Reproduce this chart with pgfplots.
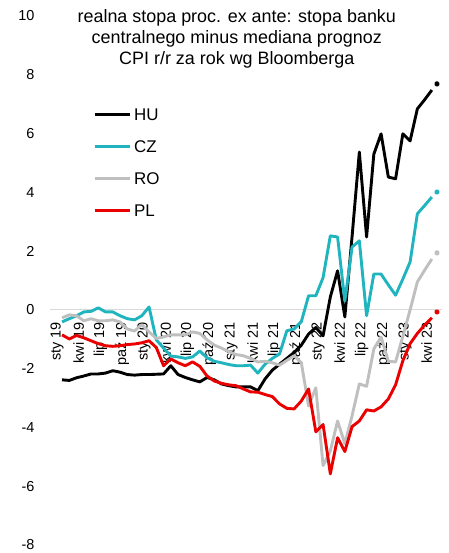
\documentclass[border=0pt]{standalone}
\usepackage{fontspec}
\setmainfont{Liberation Sans}
\usepackage{pgfplots}
\usepackage{pgfplotstable}
\pgfplotsset{compat=1.18}
\definecolor{hu}{RGB}{0,0,0}
\definecolor{cz}{RGB}{32,180,190}
\definecolor{ro}{RGB}{191,191,191}
\definecolor{pl}{RGB}{235,0,0}
\definecolor{zeroline}{RGB}{217,217,217}

% monthly data, i = 0 is Jan 2019
\pgfplotstableread{
i  hu    cz    ro    pl
0  -2.38 -0.41 -0.27 -0.85
1  -2.40 -0.30 -0.17 -0.99
2  -2.31 -0.20 -0.20 -0.87
3  -2.25 -0.07 -0.37 -0.95
4  -2.18 -0.05 -0.30 -1.05
5  -2.18  0.07 -0.37 -1.15
6  -2.15 -0.07 -0.37 -1.22
7  -2.07 -0.07 -0.34 -1.24
8  -2.12 -0.20 -0.41 -1.22
9  -2.20 -0.30 -0.65 -1.18
10 -2.22 -0.34 -0.72 -1.16
11 -2.20 -0.20 -0.50 -1.12
12 -2.20  0.10 -0.75 -1.05
13 -2.19 -1.02 -0.97 -1.28
14 -2.18 -1.30 -0.92 -1.90
15 -1.90 -1.57 -0.85 -1.67
16 -2.20 -1.60 -0.85 -1.80
17 -2.30 -1.65 -0.85 -1.90
18 -2.38 -1.60 -0.75 -1.77
19 -2.45 -1.40 -0.80 -1.92
20 -2.30 -1.63 -1.02 -2.25
21 -2.38 -1.75 -1.20 -2.42
22 -2.52 -1.80 -1.30 -2.50
23 -2.58 -1.86 -1.42 -2.55
24 -2.62 -1.90 -1.52 -2.58
25 -2.62 -1.90 -1.56 -2.69
26 -2.62 -1.88 -1.65 -2.79
27 -2.75 -2.15 -1.77 -2.80
28 -2.35 -1.85 -1.75 -2.88
29 -2.05 -1.65 -1.80 -2.95
30 -1.85 -1.50 -1.88 -3.20
31 -1.65 -0.71 -1.72 -3.35
32 -1.45 -0.65 -1.56 -3.37
33 -1.20 -0.40 -1.80 -3.10
34 -0.82  0.48 -3.27 -2.69
35 -0.60  0.48 -2.65 -4.15
36 -0.88  1.10 -5.30 -3.90
37  0.44  2.52 -4.80 -5.58
38  1.33  2.48 -3.78 -4.35
39 -0.24  0.30 -4.55 -4.82
40  2.50  2.14 -3.60 -3.97
41  5.37  2.35 -2.52 -3.78
42  2.48 -0.20 -2.60 -3.40
43  5.30  1.22 -1.33 -3.44
44  5.99  1.22 -0.92 -3.30
45  4.52  0.85 -1.75 -3.03
46  4.46  0.50 -1.77 -2.55
47  5.99  1.05 -0.90 -1.73
48  5.75  1.63  0.00 -1.15
49  6.84  3.27  0.95 -0.80
50  7.15  3.55  1.35 -0.52
51  7.48  3.84  1.73 -0.27
}\rates

% latest reading, drawn as a dot only
\pgfplotstableread{
i    hu   cz   ro   pl
51.7 7.69 4.01 1.94 -0.07
}\latest

\begin{document}
\begin{tikzpicture}
\begin{axis}[at={(0,0)}, anchor=south west, scale only axis,
  width=392bp, height=529bp,
  xmin=-1.66, xmax=52.4, ymin=-8, ymax=10,
  axis x line=middle, axis y line=left,
  x axis line style={draw=zeroline, line width=0.8bp, -},
  y axis line style={draw=none},
  major tick length=0pt,
  ytick={-8,-6,-4,-2,0,2,4,6,8,10},
  yticklabels={-8,-6,-4,-2,0,2,4,6,8,10},
  yticklabel style={xshift=-12bp},
  xtick={-0.7,2.3,5.3,8.3,11.3,14.3,17.3,20.3,23.3,26.3,29.3,32.3,35.3,38.3,41.3,44.3,47.3,50.3},
  xticklabels={sty 19,kwi 19,lip 19,paź 19,sty 20,kwi 20,lip 20,paź 20,sty 21,kwi 21,lip 21,paź 21,sty 22,kwi 22,lip 22,paź 22,sty 23,kwi 23},
  tick label style={font=\fontsize{14.5}{17}\selectfont, text=black},
  xticklabel style={yshift=-9bp, rotate=90, anchor=east},
  clip=false,
  legend style={at={(rel axis cs:0.1097,0.826)}, anchor=north west, draw=none, fill=none,
    font=\fontsize{17}{19}\selectfont, row sep=20bp, column sep=3bp, inner sep=0pt,
    nodes={inner sep=0pt, text height=12bp, text depth=0bp}},
  legend cell align=left,
  legend image code/.code={\draw[#1] (0bp,0bp) -- (35bp,0bp);},
  every axis plot/.append style={line width=2.9bp, line join=round},
]
\addplot[hu, no marks] table[x=i, y=hu] {\rates};
\addlegendentry{HU}
\addplot[cz, no marks] table[x=i, y=cz] {\rates};
\addlegendentry{CZ}
\addplot[ro, no marks] table[x=i, y=ro] {\rates};
\addlegendentry{RO}
\addplot[pl, no marks] table[x=i, y=pl] {\rates};
\addlegendentry{PL}
\addplot[hu, only marks, mark=*, mark size=1.4bp, forget plot] table[x=i, y=hu] {\latest};
\addplot[cz, only marks, mark=*, mark size=1.4bp, forget plot] table[x=i, y=cz] {\latest};
\addplot[ro, only marks, mark=*, mark size=1.4bp, forget plot] table[x=i, y=ro] {\latest};
\addplot[pl, only marks, mark=*, mark size=1.4bp, forget plot] table[x=i, y=pl] {\latest};
\node[align=center, font=\fontsize{18}{21}\selectfont] at (axis cs:24.1,9.22)
  {realna stopa proc. ex ante: stopa banku\\centralnego minus mediana prognoz\\CPI r/r za rok wg Bloomberga};
\end{axis}
\pgfresetboundingbox
\path[use as bounding box] (-50bp,-8bp) rectangle (399bp,545bp);
\end{tikzpicture}
\end{document}
